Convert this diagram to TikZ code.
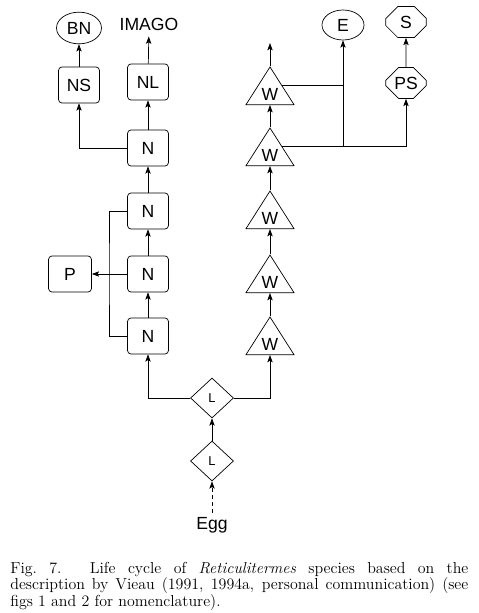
\documentclass[tikz,border=0pt]{standalone}
\usepackage{fontspec}
\newfontfamily\diafont{Liberation Sans}
\usetikzlibrary{shapes.geometric,shapes.misc,arrows.meta}
\begin{document}
\begin{tikzpicture}[x=0.03cm,y=-0.03cm,line width=0.6pt,
  every node/.style={font=\diafont\fontsize{15}{18}\selectfont},
  nbox/.style={draw,rounded corners=3pt,minimum width=1.23cm,minimum height=1.08cm,inner sep=0pt},
  oval/.style={draw,ellipse,minimum width=1.35cm,minimum height=0.95cm,inner sep=0pt},
  octo/.style={draw,chamfered rectangle,chamfered rectangle xsep=0.2cm,chamfered rectangle ysep=0.2cm,minimum width=1.22cm,minimum height=0.93cm,inner sep=0pt},
  wtri/.style={draw,isosceles triangle,isosceles triangle stretches,shape border rotate=90,minimum width=1.44cm,minimum height=1.13cm,inner sep=0pt,anchor=south},
  ldia/.style={draw,diamond,minimum width=1.29cm,minimum height=1.2cm,inner sep=0pt,font=\diafont\fontsize{11}{13}\selectfont},
  up/.style={-{Stealth[length=2.2mm,width=1.6mm,inset=0.5mm]}}]
\useasboundingbox (0,0) rectangle (479,613);
\node[oval] (BN) at (79,28) {BN};
\node[outer sep=2pt] (IMAGO) at (149,24) {IMAGO};
\node[nbox] (NS) at (79,85) {NS};
\node[nbox] (NL) at (148,82) {NL};
\node[nbox] (N1) at (148,148) {N};
\node[nbox] (N2) at (148,211) {N};
\node[nbox] (N3) at (148,274) {N};
\node[nbox] (N4) at (148,336) {N};
\node[nbox,minimum width=1.29cm] (P) at (70,274) {P};
\node[wtri] (W1) at (270,105) {W};
\node[wtri] (W2) at (270,166) {W};
\node[wtri] (W3) at (270,229) {W};
\node[wtri] (W4) at (270,293) {W};
\node[wtri] (W5) at (270,355) {W};
\coordinate (Wtop) at (270,43);
\node[oval,minimum width=1.26cm,minimum height=0.9cm] (E) at (343,25) {E};
\node[octo] (S) at (406,22) {S};
\node[octo] (PS) at (406,83) {PS};
\node[ldia] (L1) at (212,398) {L};
\node[ldia] (L2) at (212,461) {L};
\node (Egg) at (212,525) {Egg};
\coordinate (pj) at (109,274);
\coordinate (jE) at (W2.right side -| E);
\draw[up] (NS) -- (BN);
\draw[up] (NL) -- (IMAGO);
\draw[up] (N1) -- (NL);
\draw[up] (N1.west) -| (NS);
\draw[up] (N2) -- (N1);
\draw[up] (N3) -- (N2);
\draw[up] (N4) -- (N3);
\draw[up] (N3) -- (P);
\draw (N2.west) -| (pj) |- (N4.west);
\draw[up] (L1.west) -| (N4);
\draw[up] (L1.east) -| (W5.south);
\draw[up] (L2) -- (L1);
\draw[up,dashed] (Egg) -- (L2);
\draw[up] (W5.apex) -- (W4.south);
\draw[up] (W4.apex) -- (W3.south);
\draw[up] (W3.apex) -- (W2.south);
\draw[up] (W2.apex) -- (W1.south);
\draw[up] (W1.apex) -- (Wtop);
\draw (W1.right side) -- (W1.right side -| jE);
\draw[up] (jE) -- (E);
\draw[up] (W2.right side) -| (PS);
\draw[up] (PS) -- (S);
\node[font=\rmfamily\fontsize{13.6}{12.6}\selectfont,text width=13.74cm,align=justify,anchor=base west,inner sep=0pt] (cap) at (10,573) {Fig.~7. Life cycle of \textit{Reticulitermes} species based on the\linebreak description by Vieau (1991, 1994a, personal communication) (see\linebreak figs 1 and 2 for nomenclature).};
\end{tikzpicture}
\end{document}
